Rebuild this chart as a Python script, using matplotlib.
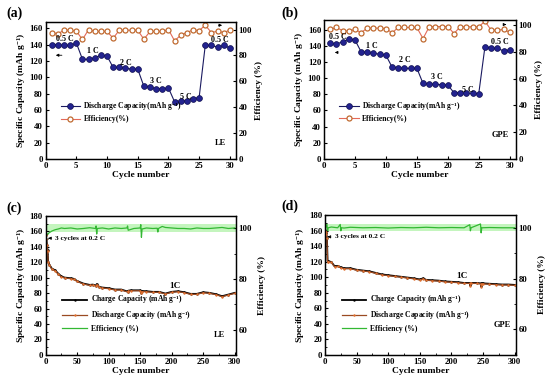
import matplotlib
matplotlib.use('Agg')
from matplotlib import pyplot as plt
from matplotlib.ticker import MultipleLocator
import numpy as np

plt.rcParams['font.family'] = ['Liberation Serif', 'DejaVu Serif']
plt.rcParams['font.weight'] = 'bold'
plt.rcParams['axes.labelweight'] = 'bold'
plt.rcParams['mathtext.fontset'] = 'custom'
plt.rcParams['mathtext.rm'] = 'Liberation Serif:bold'
plt.rcParams['mathtext.it'] = 'Liberation Serif:bold'
plt.rcParams['mathtext.bf'] = 'Liberation Serif:bold'

# ---- rate tests, panels (a) and (b) ----
rate_cycles = list(range(1, 31))
rate_labels = ['0.5 C', '1 C', '2 C', '3 C', '5 C', '0.5 C']

le_discharge = [140, 140, 139, 139, 142, 122, 122, 124, 127, 126,
                112, 112, 111, 110, 110, 89, 88, 86, 86, 87,
                70, 71, 71, 74, 75, 139, 139, 137, 139, 136]
le_eff = [97.7, 96.7, 99.5, 99.5, 98.7, 92.3, 100.0, 98.5, 98.5, 98.5,
          93.3, 99.5, 99.5, 99.5, 99.5, 92.5, 98.5, 98.5, 98.5, 100.0,
          91.3, 95.6, 97.7, 99.7, 99.2, 103.3, 97.7, 98.7, 97.7, 99.5]

gpe_discharge = [142.8, 142.0, 144.9, 148.0, 147.3, 132.5, 131.7, 130.5, 129.6, 128.4,
                 113.6, 112.8, 112.0, 112.0, 112.3, 93.4, 92.6, 92.2, 91.8, 91.4,
                 81.9, 81.9, 81.5, 81.1, 80.7, 138.7, 137.4, 136.6, 133.7, 134.6]
gpe_eff = [96.8, 98.3, 96.0, 95.5, 96.8, 94.5, 97.8, 97.8, 97.8, 97.5,
           94.3, 98.3, 98.3, 98.3, 98.3, 90.0, 98.8, 99.0, 99.0, 99.0,
           93.8, 98.8, 98.8, 98.8, 98.8, 103.0, 96.3, 96.3, 96.8, 94.7]

# ---- long cycling at 1C, panels (c) and (d) ----
le_cap_cycles = [0, 1, 2, 3, 4, 6, 10, 15, 20, 25, 30, 40, 45, 50, 60, 70, 75, 80, 81, 85,
                 90, 100, 110, 120, 130, 131, 135, 150, 152, 153, 160, 170, 180, 190,
                 200, 210, 220, 230, 240, 250, 260, 270, 280, 290, 300]
le_discharge_long = [155, 150, 142, 135, 120, 116, 111, 109, 104.6, 101, 99.5, 98.6, 97.8, 95,
                     91.7, 90, 90.4, 89, 91, 87.4, 86.6, 85.7, 84, 84, 81.4, 82.5, 83, 83,
                     79.7, 82, 81.8, 81, 81, 78.8, 81, 81.8, 80.5, 78.4, 78.4, 80.5, 79.7,
                     78, 75.4, 77.5, 79.7]
le_eff_cycles = [1, 3, 5, 10, 15, 20, 25, 30, 40, 50, 60, 70, 79, 80, 81, 82, 90, 100, 110,
                 120, 129, 130, 131, 140, 150, 151, 152, 153, 160, 170, 177, 178, 179, 185,
                 190, 200, 210, 220, 230, 240, 250, 260, 270, 280, 290, 300]
le_eff_long = [98.5, 97.5, 98.2, 99.0, 99.5, 99.8, 100.2, 100.0, 100.2, 99.8, 100.0, 100.3,
               100.0, 101.0, 97.8, 100.0, 100.2, 99.8, 100.2, 100.0, 100.2, 101.0, 99.3,
               100.0, 100.2, 101.5, 96.5, 99.8, 100.2, 100.0, 100.1, 98.6, 100.0, 100.8,
               100.4, 100.2, 100.0, 100.0, 99.8, 100.2, 100.0, 100.0, 100.2, 100.4, 100.0, 100.2]

gpe_cap_cycles = [0, 1, 2, 3, 4, 5, 10, 15, 20, 25, 30, 40, 50, 60, 70, 80, 90, 100, 110,
                  120, 130, 140, 150, 155, 160, 170, 180, 190, 200, 210, 220, 229, 230, 231,
                  240, 246, 247, 248, 250, 260, 270, 280, 290, 300]
gpe_discharge_long = [160, 158, 156, 150, 120, 120, 119, 113.6, 114, 112, 111, 111, 109, 108,
                      107, 105, 103, 102, 101, 100, 99, 98, 96.5, 98, 96, 95.5, 95, 94, 93.5,
                      93, 92, 92, 89, 92, 92, 91.5, 88, 91.5, 91.5, 91, 90.5, 90, 90, 89.5]
gpe_eff_cycles = [1, 3, 4, 5, 10, 20, 24, 25, 26, 30, 40, 60, 80, 100, 120, 140, 160, 180,
                  200, 220, 229, 230, 231, 246, 247, 248, 260, 280, 300]
gpe_eff_long = [100.0, 101.5, 98.5, 100.0, 100.3, 100.0, 101.3, 98.8, 100.0, 99.9, 100.2,
                100.0, 100.1, 99.9, 100.1, 100.0, 100.2, 100.0, 100.1, 100.0, 101.2, 98.8,
                100.0, 101.5, 98.0, 100.0, 100.1, 100.0, 100.0]

FS = 6.3
NAVY = '#23238f'
ORANGE = '#c06a30'


def style(ax, ax2):
    for a in (ax, ax2):
        a.tick_params(direction='in', labelsize=FS, length=2.5, width=0.8, pad=2)
        a.tick_params(which='minor', direction='in', length=1.5, width=0.6)
        for s in a.spines.values():
            s.set_linewidth(0.9)


def rate_panel(ax, discharge, eff, tag, ylim, elim, label_pos, tag_y, arrows):
    ax2 = ax.twinx()
    ax2.plot(rate_cycles, eff, '-o', color='#e46a5a', lw=0.8, ms=3.6, mfc='white',
             mec=ORANGE, mew=0.9, label='Efficiency(%)')
    ax.plot(rate_cycles, discharge, '-o', color='#1a1a60', lw=0.8, ms=4.2, mfc=NAVY,
            mec='#101050', mew=0.5, label='Discharge Capacity(mAh g$^{-1}$)', zorder=3)
    ax.set_xlim(0, 31)
    ax.set_ylim(*ylim)
    ax2.set_ylim(*elim)
    ax.set_xticks([0, 5, 10, 15, 20, 25, 30])
    ax.set_yticks(range(0, 161, 20))
    ax2.set_yticks(range(0, 101, 20))
    ax.set_xlabel('Cycle number', fontsize=FS + 0.5, labelpad=1)
    ax.set_ylabel('Specific Capacity (mAh g$^{-1}$)', fontsize=FS + 0.5, labelpad=1)
    ax2.set_ylabel('Efficiency (%)', fontsize=FS + 0.5, labelpad=2)
    style(ax, ax2)
    ax.set_zorder(ax2.get_zorder() + 1)
    ax.patch.set_visible(False)
    for txt, (x, y) in zip(rate_labels, label_pos):
        ax.text(x, y, txt, fontsize=FS - 0.5, ha='center', va='center')
    ax.text(28.4, tag_y, tag, fontsize=FS - 0.3, ha='center', va='center')
    (lx0, lx1, ly), (rx0, rx1, ry) = arrows
    ax.annotate('', xy=(lx1, ly), xytext=(lx0, ly),
                arrowprops=dict(arrowstyle='-|>', lw=0.6, color='black', mutation_scale=4))
    ax2.annotate('', xy=(rx1, ry), xytext=(rx0, ry),
                 arrowprops=dict(arrowstyle='-|>', lw=0.6, color='black', mutation_scale=4))
    h1, l1 = ax.get_legend_handles_labels()
    h2, l2 = ax2.get_legend_handles_labels()
    ax.legend(h1 + h2, l1 + l2, loc='lower left', bbox_to_anchor=(0.05, 0.22),
              frameon=False, fontsize=FS - 0.8, handlelength=2.6, handletextpad=0.4,
              labelspacing=0.3, borderpad=0.2)


def long_panel(ax, cap_cycles, discharge, eff_cycles, eff, tag, one_c, tag_pos, note_y):
    ax2 = ax.twinx()
    mid = np.median(eff)
    ax2.axhspan(mid - 1.4, mid + 1.6, color='#c4f5be', lw=0, zorder=0)
    ax2.plot(eff_cycles, eff, color='#33b833', lw=0.9, zorder=2, label='Efficiency (%)')
    charge = [v + 0.6 for v in discharge]
    ax.plot(cap_cycles, charge, '-', color='black', lw=1.3, marker='.', ms=1.5,
            label='Charge Capacity (mAh g$^{-1}$)')
    ax.plot(cap_cycles, discharge, '-', color='#9a4a22', lw=0.9, marker='+', ms=2, mec='#e07030',
            label='Discharge Capacity (mAh g$^{-1}$)')
    ax.set_xlim(0, 302)
    ax.set_ylim(0, 180)
    ax2.set_ylim(50, 105)
    ax.set_xticks(range(0, 301, 50))
    ax.xaxis.set_minor_locator(MultipleLocator(25))
    ax.set_yticks(range(0, 181, 20))
    ax.yaxis.set_minor_locator(MultipleLocator(10))
    ax2.set_yticks([60, 80, 100])
    ax2.yaxis.set_minor_locator(MultipleLocator(10))
    ax.set_xlabel('Cycle number', fontsize=FS + 0.5, labelpad=1)
    ax.set_ylabel('Specific Capacity (mAh g$^{-1}$)', fontsize=FS + 0.5, labelpad=1)
    ax2.set_ylabel('Efficiency (%)', fontsize=FS + 0.5, labelpad=4)
    style(ax, ax2)
    ax.set_zorder(ax2.get_zorder() + 1)
    ax.patch.set_visible(False)
    ax.text(one_c[0], one_c[1], '1C', fontsize=FS + 0.3, ha='center', va='center')
    ax.text(tag_pos[0], tag_pos[1], tag, fontsize=FS - 0.3, ha='center', va='center')
    ax.annotate('3 cycles at 0.2 C', xy=(4, note_y), xytext=(15, note_y), fontsize=FS - 1,
                va='center', arrowprops=dict(arrowstyle='-|>', lw=0.6, color='black',
                                             mutation_scale=4))
    h1, l1 = ax.get_legend_handles_labels()
    h2, l2 = ax2.get_legend_handles_labels()
    ax.legend(h1 + h2, l1 + l2, loc='lower left', bbox_to_anchor=(0.06, 0.12),
              frameon=False, fontsize=FS - 0.8, handlelength=3.2, handletextpad=0.5,
              labelspacing=0.35, borderpad=0.2)


fig = plt.figure(figsize=(5.5, 3.82), dpi=100)
ax_a = fig.add_axes([0.083, 0.584, 0.346, 0.359])
ax_b = fig.add_axes([0.589, 0.584, 0.349, 0.364])
ax_c = fig.add_axes([0.083, 0.071, 0.346, 0.364])
ax_d = fig.add_axes([0.591, 0.071, 0.347, 0.366])

rate_panel(ax_a, le_discharge, le_eff, 'LE', (0, 168), (0, 106),
           [(3.2, 147), (7.7, 132), (13.1, 117), (18.0, 95), (22.8, 75.5), (28.3, 146)], 20,
           [(3.1, 1.2, 127), (27.7, 29.2, 103.3)])
rate_panel(ax_b, gpe_discharge, gpe_eff, 'GPE', (0, 172), (0, 104),
           [(2.2, 151), (7.8, 140), (13.1, 122), (18.2, 101.6), (23.2, 85), (28.4, 145)], 29.6,
           [(2.7, 1.3, 131.7), (28.8, 29.9, 100.5)])
long_panel(ax_c, le_cap_cycles, le_discharge_long, le_eff_cycles, le_eff_long, 'LE',
           (205, 89.6), (276, 26), 151)
long_panel(ax_d, gpe_cap_cycles, gpe_discharge_long, gpe_eff_cycles, gpe_eff_long, 'GPE',
           (216, 101.6), (280, 38.6), 152)

for x, y, s in [(0.012, 0.965, '(a)'), (0.512, 0.965, '(b)'),
                (0.012, 0.455, '(c)'), (0.512, 0.46, '(d)')]:
    fig.text(x, y, s, fontsize=10, fontweight='bold', va='center')

fig.savefig('out.png', dpi=100)
